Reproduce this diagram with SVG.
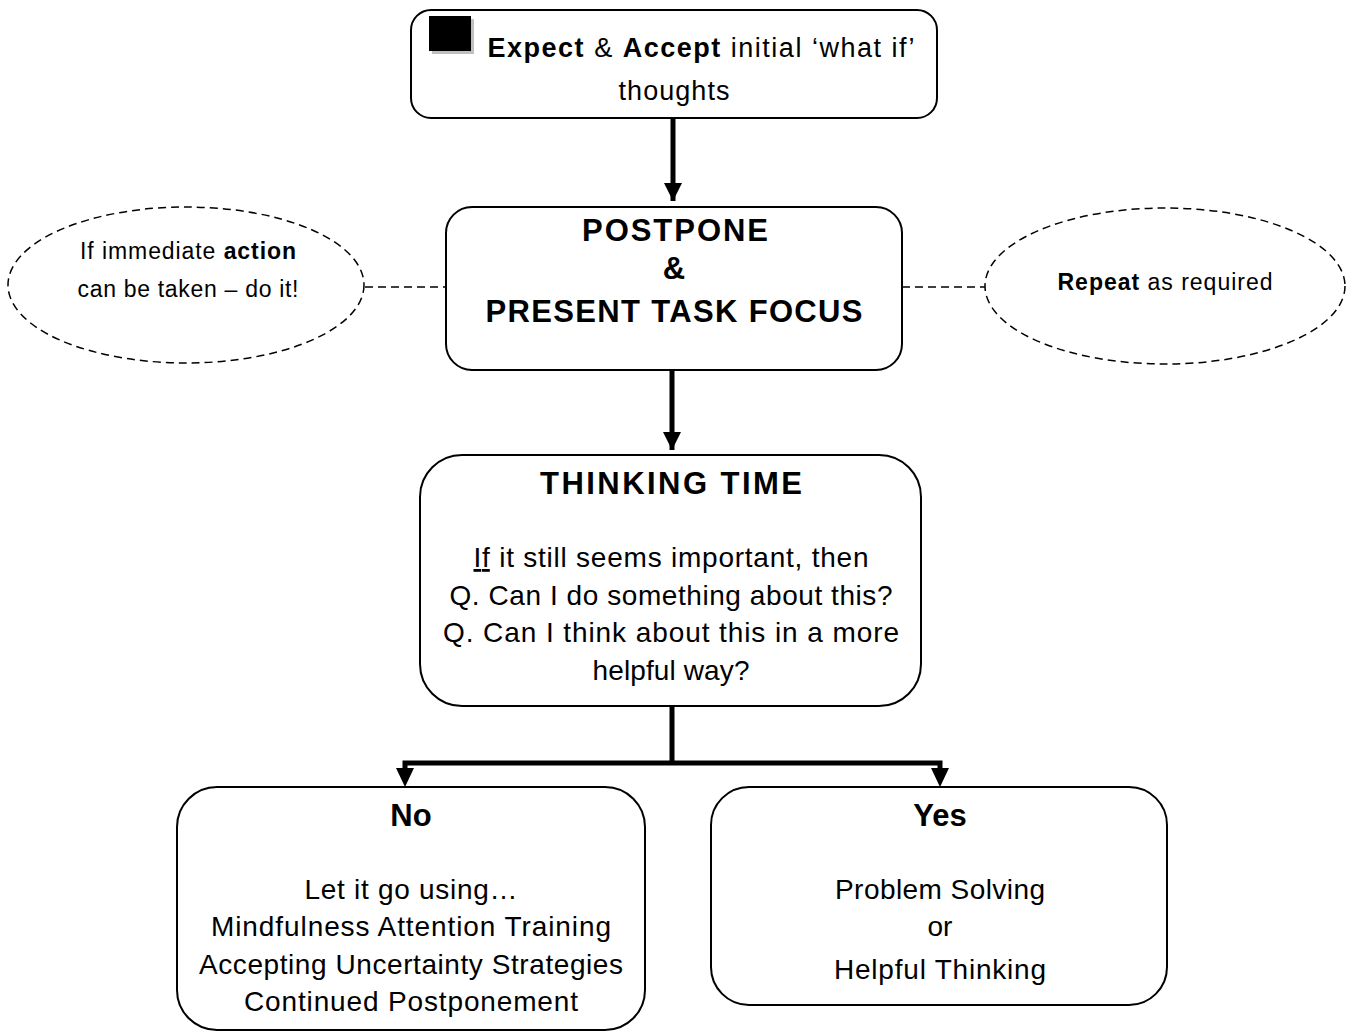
<svg xmlns="http://www.w3.org/2000/svg" width="1353" height="1031" viewBox="0 0 1353 1031">
<style>
.box{fill:#fff;stroke:#000;stroke-width:2}
.ell{fill:none;stroke:#000;stroke-width:1.5;stroke-dasharray:8 5}
.dash{stroke:#000;stroke-width:1.5;stroke-dasharray:8 5;fill:none}
.conn{stroke:#000;stroke-width:5;fill:none}
text{font-family:"Liberation Sans",Arial,sans-serif;fill:#000;text-anchor:middle}
.t26{font-size:27px}
.t27{font-size:28px}
.t22{font-size:23px}
.b{font-weight:bold}
.h{font-size:31px;font-weight:bold}
</style>
<defs>
<marker id="ah" viewBox="0 0 10 10" refX="10" refY="5" markerWidth="3.6" markerHeight="3.6" orient="auto" markerUnits="strokeWidth">
<path d="M0,0 L10,5 L0,10 z" fill="#000"/>
</marker>
</defs>
<g id="connectors">
<line class="conn" x1="673" y1="118" x2="673" y2="201" marker-end="url(#ah)"/>
<line class="conn" x1="672" y1="370" x2="672" y2="450" marker-end="url(#ah)"/>
<polyline class="conn" points="672,707 672,763"/>
<polyline class="conn" points="405,770 405,763 940,763 940,770"/>
<path d="M396,768 L414,768 L405,787 z" fill="#000"/>
<path d="M931,768 L949,768 L940,787 z" fill="#000"/>
<line class="dash" x1="365" y1="287" x2="446" y2="287"/>
<line class="dash" x1="902" y1="287" x2="985" y2="287"/>
</g>
<g id="node-expect">
<rect class="box" x="411" y="10" width="526" height="108" rx="20"/>
<rect x="432" y="19" width="42" height="35" fill="#c0c0c0"/>
<rect x="429" y="16" width="42" height="35" fill="#000"/>
<text class="t26" x="701" y="57" textLength="427"><tspan class="b">Expect</tspan> &amp; <tspan class="b">Accept</tspan> initial ‘what if’</text>
<text class="t26" x="674" y="100" textLength="111">thoughts</text>
</g>
<g id="node-postpone">
<rect class="box" x="446" y="207" width="456" height="163" rx="26"/>
<text class="h" x="675" y="241" textLength="186">POSTPONE</text>
<text class="h" x="674" y="279">&amp;</text>
<text class="h" x="674" y="322" textLength="377">PRESENT TASK FOCUS</text>
</g>
<g id="node-action">
<ellipse class="ell" cx="186" cy="285" rx="178" ry="78"/>
<text class="t22" x="188" y="259" textLength="216"><tspan>If immediate </tspan><tspan class="b">action</tspan></text>
<text class="t22" x="188" y="297" textLength="221">can be taken – do it!</text>
</g>
<g id="node-repeat">
<ellipse class="ell" cx="1165" cy="286" rx="180" ry="78"/>
<text class="t22" x="1165" y="290" textLength="215"><tspan class="b">Repeat</tspan> as required</text>
</g>
<g id="node-thinking">
<rect class="box" x="420" y="455" width="501" height="251" rx="42"/>
<text class="h" x="671" y="494" textLength="262">THINKING TIME</text>
<text class="t27" x="671" y="567" textLength="395"><tspan text-decoration="underline">If</tspan> it still seems important, then</text>
<text class="t27" x="671" y="605" textLength="443">Q. Can I do something about this?</text>
<text class="t27" x="671" y="642" textLength="456">Q. Can I think about this in a more</text>
<text class="t27" x="671" y="680" textLength="157">helpful way?</text>
</g>
<g id="node-no">
<rect class="box" x="177" y="787" width="468" height="243" rx="40"/>
<text class="h" x="411" y="826">No</text>
<text class="t27" x="411" y="899" textLength="213">Let it go using…</text>
<text class="t27" x="411" y="936" textLength="400">Mindfulness Attention Training</text>
<text class="t27" x="411" y="974" textLength="424">Accepting Uncertainty Strategies</text>
<text class="t27" x="411" y="1011" textLength="334">Continued Postponement</text>
</g>
<g id="node-yes">
<rect class="box" x="711" y="787" width="456" height="218" rx="38"/>
<text class="h" x="940" y="826">Yes</text>
<text class="t27" x="940" y="899" textLength="210">Problem Solving</text>
<text class="t27" x="940" y="936">or</text>
<text class="t27" x="940" y="979" textLength="212">Helpful Thinking</text>
</g>
</svg>
